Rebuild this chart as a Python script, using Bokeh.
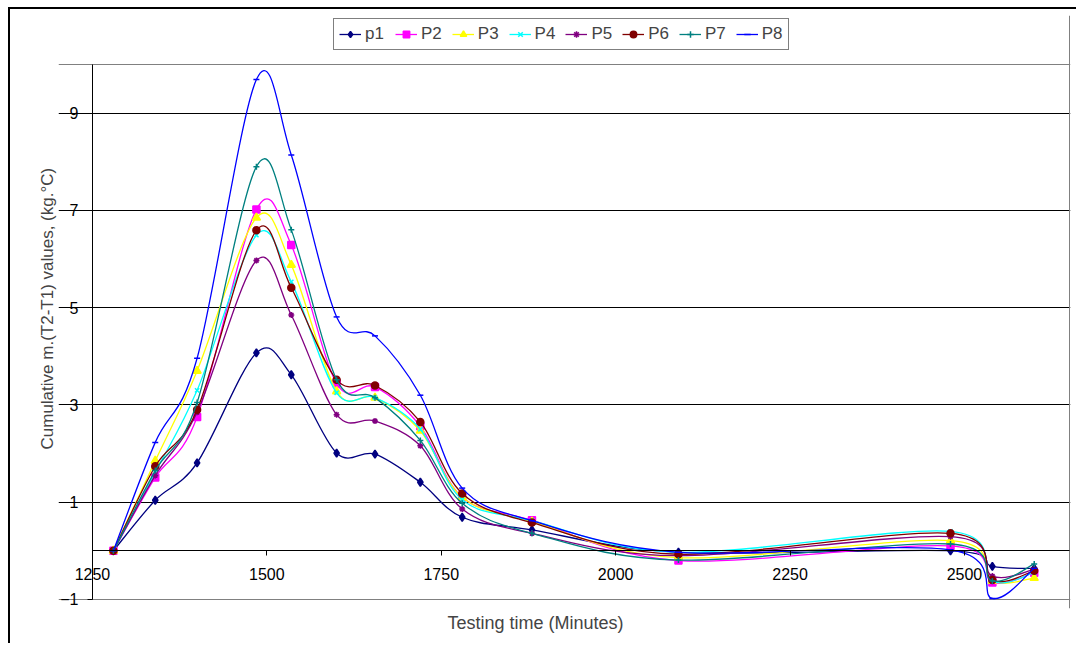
from bokeh.plotting import figure
from bokeh.models import (ColumnDataSource, FixedTicker, LinearAxis, Legend,
                          LegendItem, Title, Range1d, Grid)
from bokeh.embed import file_html
from bokeh.resources import INLINE

# ---------------- data ----------------
times = [1280, 1340, 1400, 1485, 1535, 1600, 1655, 1720, 1780, 1880, 2090, 2480, 2540, 2600]

p1 = [0, 1.04, 1.81, 4.07, 3.62, 2.01, 1.99, 1.41, 0.69, 0.43, -0.03, 0.00, -0.32, -0.36]
P2 = [0, 1.51, 2.75, 7.02, 6.29, 3.44, 3.37, 2.56, 1.10, 0.63, -0.20, 0.10, -0.65, -0.45]
P3 = [0, 1.85, 3.70, 6.85, 5.88, 3.28, 3.15, 2.47, 1.10, 0.60, -0.14, 0.21, -0.62, -0.56]
P4 = [0, 1.62, 3.30, 6.49, 5.53, 3.25, 3.15, 2.50, 1.05, 0.62, -0.03, 0.40, -0.62, -0.45]
P5 = [0, 1.55, 2.85, 5.97, 4.85, 2.80, 2.67, 2.16, 0.86, 0.36, -0.10, 0.29, -0.52, -0.38]
P6 = [0, 1.74, 2.90, 6.59, 5.41, 3.52, 3.40, 2.65, 1.18, 0.58, -0.07, 0.36, -0.60, -0.41]
P7 = [0, 1.65, 3.05, 7.90, 6.60, 3.52, 3.15, 2.27, 0.98, 0.36, -0.19, 0.14, -0.62, -0.27]
P8 = [0, 2.23, 3.96, 9.69, 8.14, 4.81, 4.42, 3.20, 1.29, 0.62, -0.03, 0.02, -0.98, -0.36]

series_names = ["p1", "P2", "P3", "P4", "P5", "P6", "P7", "P8"]
series_values = [p1, P2, P3, P4, P5, P6, P7, P8]

x_ticks = [1250, 1500, 1750, 2000, 2250, 2500]
y_ticks = [-1, 1, 3, 5, 7, 9]
grid_ticks = [1, 3, 5, 7, 9]
x_min, x_max = 1250, 2650
y_min, y_max = -1, 10

x_title = "Testing time (Minutes)"
y_title = "Cumulative m.(T2-T1) values, (kg.\u00b0C)"

# ---------------- styles ----------------
colors = ["#000080", "#FF00FF", "#FFFF00", "#00FFFF", "#800080", "#800000", "#008080", "#0000FF"]
markers = ["diamond", "square", "triangle", "x", "asterisk", "circle", "cross", "dash"]
marker_sizes = [8, 7, 8, 6, 6, 7, 6, 6]
FONT = "Liberation Sans"


def smooth_segments(xs, ys, t=1.0 / 6.0):
    """Excel-like smoothed line: cubic Bezier control points (Catmull-Rom)."""
    n = len(xs)
    d = dict(x0=[], y0=[], x1=[], y1=[], cx0=[], cy0=[], cx1=[], cy1=[])
    for i in range(n - 1):
        a = max(i - 1, 0)
        b = min(i + 2, n - 1)
        d["x0"].append(xs[i]); d["y0"].append(ys[i])
        d["x1"].append(xs[i + 1]); d["y1"].append(ys[i + 1])
        d["cx0"].append(xs[i] + (xs[i + 1] - xs[a]) * t)
        d["cy0"].append(ys[i] + (ys[i + 1] - ys[a]) * t)
        d["cx1"].append(xs[i + 1] - (xs[b] - xs[i]) * t)
        d["cy1"].append(ys[i + 1] - (ys[b] - ys[i]) * t)
    return d


# the frame also holds the legend band above the plot area (y > 10)
# and the room for the "-1" label below it
p = figure(width=1068, height=636,
           x_range=Range1d(1201.3, 2652), y_range=Range1d(-1.186, 11.008),
           x_axis_type=None,
           output_backend="svg", toolbar_location=None,
           min_border_left=48, min_border_right=8,
           min_border_top=6, min_border_bottom=37,
           background_fill_color="white", border_fill_color="white")
p.styles = {"margin-left": "8px", "margin-top": "7px",
            "border-left": "2px solid black", "border-top": "2px solid black"}

p.outline_line_color = None

# y axis, crossing at x = 1250
p.yaxis.fixed_location = x_min
p.yaxis.bounds = (y_min, y_max)
p.yaxis.ticker = FixedTicker(ticks=y_ticks)
p.yaxis.major_label_text_font = FONT
p.yaxis.major_label_text_font_size = "16px"
p.yaxis.major_label_text_color = "black"
p.yaxis.major_tick_out = 5
p.yaxis.major_tick_in = 0
p.yaxis.minor_tick_line_color = None
p.yaxis.axis_line_color = "black"
p.yaxis.major_tick_line_color = "black"
p.yaxis.major_label_standoff = 9

p.ygrid.ticker = FixedTicker(ticks=grid_ticks)
p.ygrid.bounds = (x_min, x_max)
p.ygrid.grid_line_color = "black"
p.ygrid.grid_line_width = 1

# plot-area border (top / bottom / right)
p.add_layout(Grid(dimension=1, ticker=FixedTicker(ticks=[y_min, y_max]),
                  bounds=(x_min, x_max), grid_line_color="#808080"))
p.add_layout(Grid(dimension=0, ticker=FixedTicker(ticks=[x_max]),
                  bounds=(y_min, y_max), grid_line_color="#808080"))

# x axis crossing at y = 0
xa = LinearAxis(fixed_location=0, ticker=FixedTicker(ticks=x_ticks), bounds=(x_min, x_max))
xa.major_label_text_font = FONT
xa.major_label_text_font_size = "16px"
xa.major_label_text_color = "black"
xa.major_tick_out = 5
xa.major_tick_in = 0
xa.minor_tick_line_color = None
xa.axis_line_color = "black"
xa.major_tick_line_color = "black"
xa.major_label_standoff = 12
p.add_layout(xa, "below")

# axis titles
xt = Title(text=x_title, align="left", offset=389, text_font=FONT,
           text_font_size="18px", text_font_style="normal", standoff=5)
p.add_layout(xt, "below")
yt = Title(text=y_title, align="left", offset=159, text_font=FONT,
           text_font_size="17px", text_font_style="normal", standoff=4)
p.add_layout(yt, "left")

# series
items = []
for name, vals, c, m, s in zip(series_names, series_values, colors, markers, marker_sizes):
    src = ColumnDataSource(smooth_segments(times, vals))
    r_line = p.bezier(x0="x0", y0="y0", x1="x1", y1="y1", cx0="cx0", cy0="cy0",
                      cx1="cx1", cy1="cy1", source=src, line_color=c, line_width=1.3)
    r_pts = p.scatter(times, vals, marker=m, size=s, fill_color=c, line_color=c,
                      line_width=1.5)
    items.append(LegendItem(label=name, renderers=[r_line, r_pts]))

legend = Legend(items=items, orientation="horizontal", location=(275, 558),
                glyph_width=22, glyph_height=16, label_standoff=4, spacing=10,
                padding=5, margin=0, border_line_color="black", border_line_width=1,
                label_text_font=FONT, label_text_font_size="17px",
                background_fill_color="white", background_fill_alpha=1)
p.add_layout(legend, "center")

open("out.html", "w").write(file_html(p, INLINE))
